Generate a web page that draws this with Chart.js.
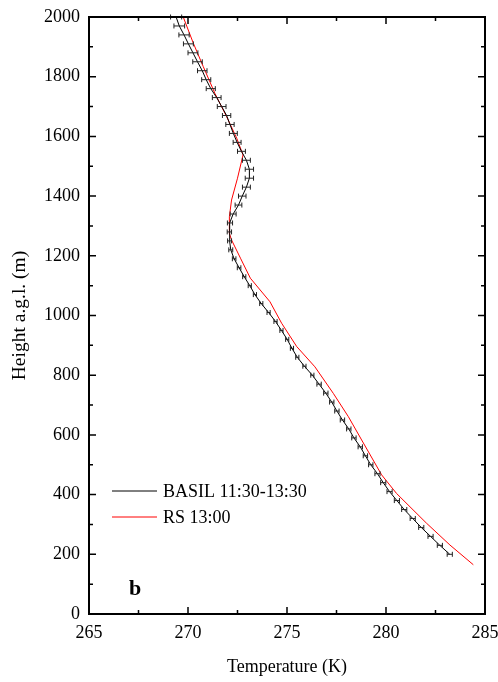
<!DOCTYPE html>
<html>
<head>
<meta charset="utf-8">
<script src="https://cdn.jsdelivr.net/npm/chart.js@4.4.1/dist/chart.umd.min.js"></script>
<style>
html, body { margin: 0; padding: 0; background: #fff; }
</style>
</head>
<body>
<canvas id="profileChart" width="498" height="682"></canvas>
<script>
// BASIL lidar profile (11:30-13:30)
const basilHeight = [200, 230, 260, 290, 320, 350, 380, 410, 440, 470,
    500, 530, 560, 590, 620, 650, 680, 710, 740, 770,
    800, 830, 860, 890, 920, 950, 980, 1010, 1040, 1070,
    1100, 1130, 1160, 1190, 1220, 1250, 1280, 1310, 1340, 1370,
    1400, 1430, 1460, 1490, 1520, 1550, 1580, 1610, 1640, 1670,
    1700, 1730, 1760, 1790, 1820, 1850, 1880, 1910, 1940, 1970, 2000];
const basilTemp = [283.22, 282.72, 282.25, 281.78, 281.35, 280.92, 280.55, 280.18, 279.86, 279.57,
    279.23, 278.96, 278.70, 278.38, 278.12, 277.80, 277.52, 277.26, 276.96, 276.62,
    276.28, 275.88, 275.52, 275.25, 275.01, 274.72, 274.42, 274.07, 273.70, 273.38,
    273.12, 272.84, 272.58, 272.33, 272.16, 272.10, 272.09, 272.12, 272.28, 272.55,
    272.74, 272.95, 273.10, 273.10, 272.95, 272.70, 272.48, 272.29, 272.12, 271.95,
    271.70, 271.45, 271.15, 270.92, 270.72, 270.48, 270.25, 270.02, 269.80, 269.56, 269.40];
const basilErr = [0.13, 0.13, 0.13, 0.13, 0.13, 0.13, 0.13, 0.13, 0.13, 0.13,
    0.11, 0.11, 0.11, 0.11, 0.11, 0.11, 0.11, 0.11, 0.11, 0.11,
    0.08, 0.08, 0.08, 0.08, 0.08, 0.08, 0.08, 0.08, 0.08, 0.08,
    0.08, 0.08, 0.09, 0.09, 0.10, 0.10, 0.11, 0.13, 0.15, 0.17,
    0.19, 0.20, 0.21, 0.21, 0.20, 0.20, 0.20, 0.20, 0.21, 0.21,
    0.22, 0.22, 0.23, 0.23, 0.24, 0.24, 0.25, 0.25, 0.26, 0.27, 0.28];

// radiosonde 13:00
const rsHeight = [165, 231, 304, 404, 466, 583, 661, 739, 828, 896, 974, 1046, 1125, 1192,
    1253, 1275, 1331, 1387, 1460, 1538, 1594, 1666, 1744, 1834, 1912, 2000];
const rsTemp = [284.41, 283.23, 282.05, 280.53, 279.78, 278.77, 278.10, 277.34, 276.41, 275.49, 274.73, 274.14, 273.15, 272.65,
    272.20, 272.09, 272.09, 272.20, 272.50, 272.78, 272.46, 271.95, 271.36, 270.77, 270.27, 269.76];

const xTicks = [265, 270, 275, 280, 285];
const yTicks = [0, 200, 400, 600, 800, 1000, 1200, 1400, 1600, 1800, 2000];

const serif = "'Liberation Serif', 'DejaVu Serif', serif";

const basilPoints = basilHeight.map(function(h, i) { return { x: basilTemp[i], y: h, e: basilErr[i] }; });
const rsPoints = rsHeight.map(function(h, i) { return { x: rsTemp[i], y: h }; });

// error bars, frame, inward ticks, legend and panel letter
const decorPlugin = {
    id: 'decor',
    afterDatasetsDraw: function(chart) {
        const ctx = chart.ctx;
        const area = chart.chartArea;
        const xs = chart.scales.x;
        const ys = chart.scales.y;

        ctx.save();
        ctx.beginPath();
        ctx.rect(area.left, area.top - 3, area.right - area.left, area.bottom - area.top + 3);
        ctx.clip();
        ctx.strokeStyle = '#222';
        ctx.lineWidth = 1;
        basilPoints.forEach(function(p) {
            const x1 = xs.getPixelForValue(p.x - p.e);
            const x2 = xs.getPixelForValue(p.x + p.e);
            const y = ys.getPixelForValue(p.y);
            ctx.beginPath();
            ctx.moveTo(x1, y); ctx.lineTo(x2, y);
            ctx.moveTo(x1, y - 2.5); ctx.lineTo(x1, y + 2.5);
            ctx.moveTo(x2, y - 2.5); ctx.lineTo(x2, y + 2.5);
            ctx.stroke();
        });
        ctx.restore();

        ctx.save();
        ctx.strokeStyle = '#000';
        ctx.lineWidth = 2;
        ctx.strokeRect(area.left, area.top, area.right - area.left, area.bottom - area.top);
        ctx.lineWidth = 1.5;
        ctx.beginPath();
        for (let t = 265; t <= 285; t += 2.5) {
            const x = xs.getPixelForValue(t);
            const len = (t % 5 === 0) ? 7 : 4;
            ctx.moveTo(x, area.bottom); ctx.lineTo(x, area.bottom - len);
            ctx.moveTo(x, area.top); ctx.lineTo(x, area.top + len);
        }
        for (let h = 0; h <= 2000; h += 100) {
            const y = ys.getPixelForValue(h);
            const len = (h % 200 === 0) ? 7 : 4;
            ctx.moveTo(area.left, y); ctx.lineTo(area.left + len, y);
            ctx.moveTo(area.right, y); ctx.lineTo(area.right - len, y);
        }
        ctx.stroke();

        // legend
        ctx.lineWidth = 1;
        ctx.strokeStyle = '#000';
        ctx.beginPath(); ctx.moveTo(112, 491); ctx.lineTo(157, 491); ctx.stroke();
        ctx.strokeStyle = '#ff0000';
        ctx.beginPath(); ctx.moveTo(112, 517); ctx.lineTo(157, 517); ctx.stroke();
        ctx.fillStyle = '#000';
        ctx.font = '18px ' + serif;
        ctx.textAlign = 'left';
        ctx.textBaseline = 'middle';
        ctx.fillText('BASIL 11:30-13:30', 163, 492);
        ctx.fillText('RS 13:00', 163, 518);

        ctx.font = 'bold 22px ' + serif;
        ctx.fillText('b', 129, 589);
        ctx.restore();
    }
};

const ctx = document.getElementById('profileChart').getContext('2d');

new Chart(ctx, {
    type: 'scatter',
    data: {
        datasets: [{
            label: 'BASIL 11:30-13:30',
            data: basilPoints,
            showLine: true,
            borderColor: '#000',
            borderWidth: 1,
            pointRadius: 0,
            tension: 0,
        }, {
            label: 'RS 13:00',
            data: rsPoints,
            showLine: true,
            borderColor: '#ff0000',
            borderWidth: 1,
            pointRadius: 0,
            tension: 0,
        }]
    },
    options: {
        responsive: false,
        animation: false,
        layout: {
            padding: { left: 0, top: 17, right: 13, bottom: 0 }
        },
        scales: {
            x: {
                type: 'linear',
                min: 265,
                max: 285,
                afterBuildTicks: function(scale) {
                    scale.ticks = xTicks.map(function(v) { return { value: v }; });
                },
                afterFit: function(scale) {
                    scale.height = 68;
                    scale.paddingLeft = 0;
                    scale.paddingRight = 0;
                },
                grid: { display: false, drawTicks: false },
                border: { display: false },
                ticks: {
                    color: '#000',
                    padding: 8,
                    maxRotation: 0,
                    font: { family: serif, size: 18 },
                    callback: function(v) { return String(v); },
                },
                title: {
                    display: true,
                    text: 'Temperature (K)',
                    color: '#000',
                    font: { family: serif, size: 18 },
                    padding: { top: 0, bottom: 4 },
                },
            },
            y: {
                type: 'linear',
                min: 0,
                max: 2000,
                afterBuildTicks: function(scale) {
                    scale.ticks = yTicks.map(function(v) { return { value: v }; });
                },
                afterFit: function(scale) {
                    scale.width = 89;
                    scale.paddingTop = 0;
                    scale.paddingBottom = 0;
                },
                grid: { display: false, drawTicks: false },
                border: { display: false },
                ticks: {
                    color: '#000',
                    padding: 9,
                    font: { family: serif, size: 18 },
                    callback: function(v) { return String(v); },
                },
                title: {
                    display: true,
                    text: 'Height a.g.l. (m)',
                    color: '#000',
                    font: { family: serif, size: 19.5 },
                    padding: { top: 8, bottom: 0 },
                },
            },
        },
        plugins: {
            legend: { display: false },
            tooltip: { enabled: false },
        },
    },
    plugins: [decorPlugin],
});
</script>
</body>
</html>
